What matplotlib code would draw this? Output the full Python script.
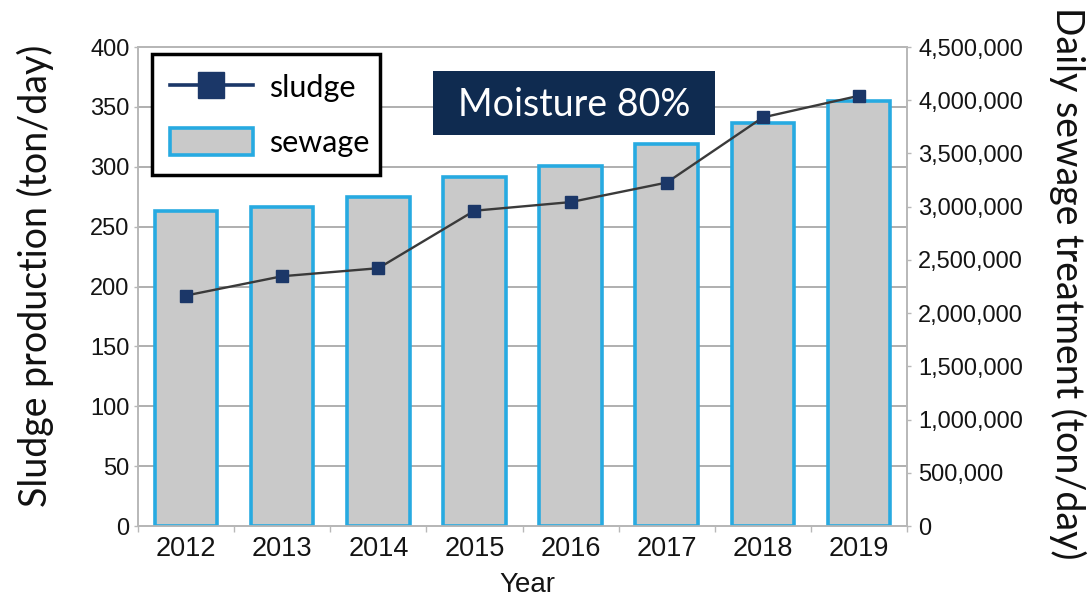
import matplotlib
matplotlib.use("Agg")
import matplotlib.pyplot as plt
import matplotlib.transforms as mtransforms
from matplotlib.patches import Rectangle
from matplotlib.ticker import FuncFormatter
import numpy as np

# ---- data ----
years = ["2012", "2013", "2014", "2015", "2016", "2017", "2018", "2019"]
sludge = [192.5, 208.6, 215.3, 263.3, 270.5, 286.8, 341.2, 359.3]          # ton/day
sewage = [2957000, 2994000, 3089000, 3277000, 3380000, 3588000, 3785000, 3992000]  # ton/day
left_ticks = [0, 50, 100, 150, 200, 250, 300, 350, 400]
right_ticks = [0, 500000, 1000000, 1500000, 2000000, 2500000, 3000000, 3500000, 4000000, 4500000]

# ---- style ----
GRID = "#a9a9a9"
SPINE = "#b8b8b8"
BAR_FILL = "#c9c9c9"
BAR_EDGE = "#27aae1"
NAVY = "#1b3768"
BOX = "#0f2b50"
TICK_FONT = "Liberation Sans"
LABEL_FONT = "Lato"
TEXT = "#141414"

plt.rcParams["font.family"] = [TICK_FONT, "DejaVu Sans"]

fig = plt.figure(figsize=(10.92, 5.96), dpi=100)
ax1 = fig.add_axes([0.1264, 0.1174, 0.7042, 0.8037])
ax2 = ax1.twinx()
ax2.set_zorder(1)
ax1.set_zorder(2)
ax1.patch.set_visible(False)

x = np.arange(len(years))

# horizontal grid (left-axis ticks) drawn beneath the bars
grid_tr = mtransforms.blended_transform_factory(ax2.transAxes, ax1.transData)
ax1.set_ylim(left_ticks[0], left_ticks[-1])
for v in left_ticks:
    ax2.plot([0, 1], [v, v], transform=grid_tr, color=GRID, lw=1.3, zorder=1,
             clip_on=False)

# sewage bars on the right axis
bars = ax2.bar(x, sewage, width=0.65, color=BAR_FILL, edgecolor=BAR_EDGE,
               linewidth=2.6, zorder=3, label="sewage")
ax2.set_ylim(right_ticks[0], right_ticks[-1])
ax2.set_yticks(right_ticks)
ax2.yaxis.set_major_formatter(FuncFormatter(lambda v, p: f"{int(v):,}"))

# sludge line on the left axis
line, = ax1.plot(x, sludge, color="#3a3a3a", lw=1.7, marker="s", ms=9,
                 mfc=NAVY, mec=NAVY, zorder=5, label="sludge")
ax1.set_yticks(left_ticks)
ax1.set_xlim(-0.5, len(years) - 0.5)
ax1.set_xticks(x)
ax1.set_xticklabels(years)
ax1.set_xticks(np.arange(len(years) + 1) - 0.5, minor=True)

for ax in (ax1, ax2):
    for s in ax.spines.values():
        s.set_color(SPINE)
        s.set_linewidth(1.2)

ax1.tick_params(axis="y", direction="out", length=3, width=1, color=SPINE,
                pad=3, labelsize=17, labelcolor=TEXT)
ax2.tick_params(axis="y", direction="out", length=3, width=1, color=SPINE,
                pad=5, labelsize=17, labelcolor=TEXT)
ax1.tick_params(axis="x", which="major", length=0, pad=7, labelsize=19.5,
                labelcolor=TEXT)
ax1.tick_params(axis="x", which="minor", length=4, width=1, color=SPINE)

# axis titles
fig.text(527 / 1092, 1 - 592 / 596, "Year", ha="center", va="baseline",
         fontsize=20, family=TICK_FONT, color=TEXT)
fig.text(35 / 1092, 1 - 276 / 596, "Sludge production (ton/day)", rotation=90,
         ha="center", va="center", fontsize=27, family=LABEL_FONT, color="#111111")
fig.text(1068 / 1092, 1 - 283 / 596, "Daily sewage treatment (ton/day)",
         rotation=270, ha="center", va="center", fontsize=27, family=LABEL_FONT,
         color="#111111")

# legend
leg = ax1.legend(handles=[line, bars], labels=["sludge", "sewage"],
                 loc="upper left", bbox_to_anchor=(0.018, 0.7265, 0.297, 0.2585),
                 mode="expand", borderaxespad=0, fancybox=False, framealpha=1,
                 prop={"family": LABEL_FONT, "size": 22}, handlelength=2.7,
                 handleheight=1.0, handletextpad=0.55, labelspacing=0.85,
                 borderpad=0.6)
leg.get_frame().set_edgecolor("black")
leg.get_frame().set_linewidth(2.5)
leg.set_zorder(10)
lh = leg.legend_handles[0]
lh.set_markersize(19)
lh.set_color(NAVY)
lh.set_linewidth(2.6)

# moisture note
ax1.add_patch(Rectangle((0.3836, 0.8163), 0.3667, 0.1336, transform=ax1.transAxes,
                        facecolor=BOX, edgecolor="none", zorder=8, clip_on=False))
ax1.text(0.567, 0.880, "Moisture 80%", transform=ax1.transAxes, ha="center",
         va="center", color="white", fontsize=27, family=LABEL_FONT, zorder=9)

fig.savefig("out.png", dpi=100)
